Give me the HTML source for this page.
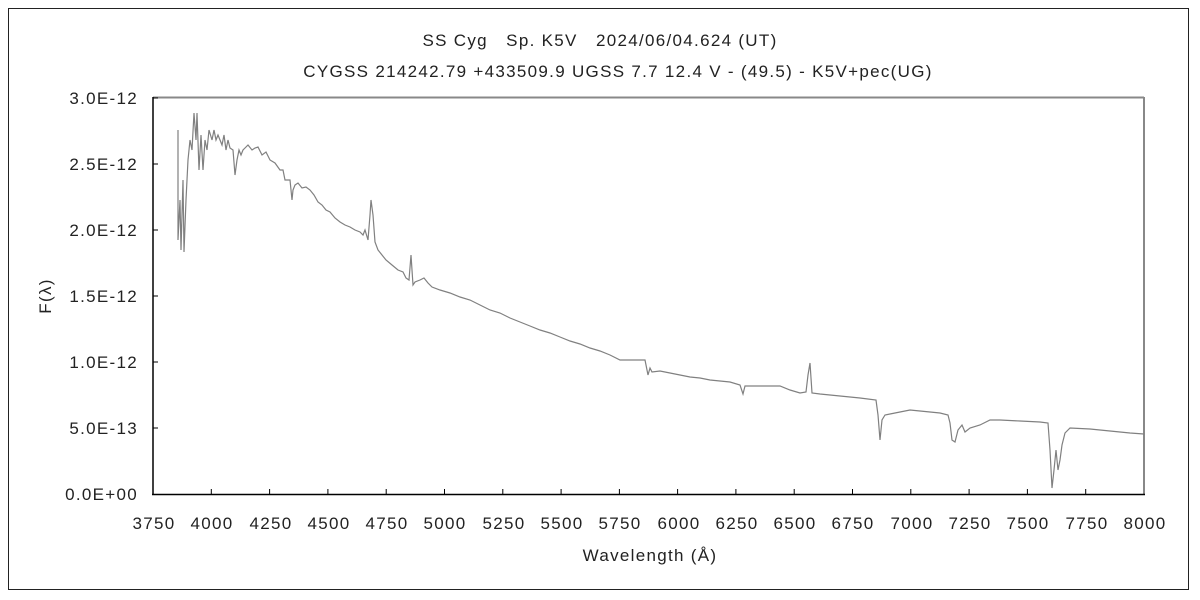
<!DOCTYPE html><html><head><style>body{margin:0;background:#fff}svg{display:block}text{font-family:"Liberation Sans","Noto Sans CJK JP",sans-serif;font-size:17px;letter-spacing:1.3px;fill:#222}</style></head><body>
<svg width="1200" height="600" viewBox="0 0 1200 600">
<rect x="8.5" y="8.5" width="1180" height="581" fill="#fff" stroke="#222"/>
<text x="600" y="46" text-anchor="middle">SS Cyg　Sp. K5V　2024/06/04.624 (UT)</text>
<text x="618" y="77" text-anchor="middle">CYGSS 214242.79 +433509.9 UGSS 7.7 12.4 V - (49.5) - K5V+pec(UG)</text>
<line x1="153" y1="97.5" x2="1144" y2="97.5" stroke="#888" stroke-width="2"/>
<line x1="1144" y1="97" x2="1144" y2="494" stroke="#888" stroke-width="2"/>
<line x1="153" y1="97" x2="153" y2="495" stroke="#000" stroke-width="1.5"/>
<line x1="152" y1="494.5" x2="1145" y2="494.5" stroke="#000" stroke-width="1.5"/>
<g stroke="#000" stroke-width="1">
<path d="M153 98h5M153 164h5M153 230h5M153 296h5M153 362h5M153 428h5"/>
<path d="M211.3 494v-5M269.6 494v-5M327.9 494v-5M386.2 494v-5M444.5 494v-5M502.8 494v-5M561.1 494v-5M619.4 494v-5M677.6 494v-5M735.9 494v-5M794.2 494v-5M852.5 494v-5M910.8 494v-5M969.1 494v-5M1027.4 494v-5M1085.7 494v-5"/>
</g>
<g text-anchor="end">
<text x="138" y="104">3.0E-12</text><text x="138" y="170">2.5E-12</text><text x="138" y="236">2.0E-12</text><text x="138" y="302">1.5E-12</text><text x="138" y="368">1.0E-12</text><text x="138" y="434">5.0E-13</text><text x="138" y="500">0.0E+00</text>
</g>
<g text-anchor="middle">
<text x="154" y="529">3750</text><text x="212" y="529">4000</text><text x="271" y="529">4250</text><text x="329" y="529">4500</text><text x="387" y="529">4750</text><text x="445" y="529">5000</text><text x="504" y="529">5250</text><text x="562" y="529">5500</text><text x="620" y="529">5750</text><text x="679" y="529">6000</text><text x="737" y="529">6250</text><text x="795" y="529">6500</text><text x="853" y="529">6750</text><text x="912" y="529">7000</text><text x="970" y="529">7250</text><text x="1028" y="529">7500</text><text x="1087" y="529">7750</text><text x="1145" y="529">8000</text>
<text x="650" y="561">Wavelength (Å)</text>
</g>
<text x="0" y="0" text-anchor="middle" transform="translate(51,296) rotate(-90)">F(λ)</text>
<polyline fill="none" stroke="#808080" stroke-width="1.2" points="178,130 178,240 180,200 181,250 183,180 184,252 186,200 188,160 190,140 192,150 194,113 196,140 197,113 199,170 201,135 203,170 205,140 207,150 209,130 212,140 214,130 216,140 218,135 220,140 222,145 224,135 226,150 228,140 230,148 233,150 235,175 237,160 239,150 241,155 243,150 245,148 248,145 252,150 255,148 258,147 262,155 266,152 270,160 275,163 280,170 283,170 285,180 288,180 290,180 292,200 293,190 295,185 298,183 302,188 306,187 310,190 314,195 318,202 322,205 326,210 330,212 335,218 340,222 345,225 350,227 355,230 360,232 363,235 365,230 368,240 370,215 371,200 373,215 375,242 378,250 382,255 386,260 392,265 398,270 403,272 406,278 409,280 411,255 413,285 415,282 420,280 424,278 428,283 432,287 440,290 450,293 460,297 470,300 480,305 490,310 500,313 510,318 520,322 530,326 540,330 550,333 560,337 570,341 580,344 590,348 600,351 610,355 620,360 630,360 645,360 648,375 650,368 652,372 660,371 670,373 680,375 690,377 700,378 710,380 720,381 730,382 740,385 743,394 745,386 760,386 780,386 790,390 800,393 806,392 808,375 810,363 812,393 820,394 840,396 860,398 876,400 878,415 880,440 882,420 885,415 890,414 900,412 910,410 920,411 940,413 948,415 950,423 952,440 955,442 958,430 962,425 965,432 970,428 980,425 990,420 1000,420 1020,421 1040,422 1048,423 1050,450 1052,488 1054,470 1056,450 1058,470 1060,460 1062,445 1065,433 1070,428 1090,429 1110,431 1130,433 1144,434"/>
</svg></body></html>
